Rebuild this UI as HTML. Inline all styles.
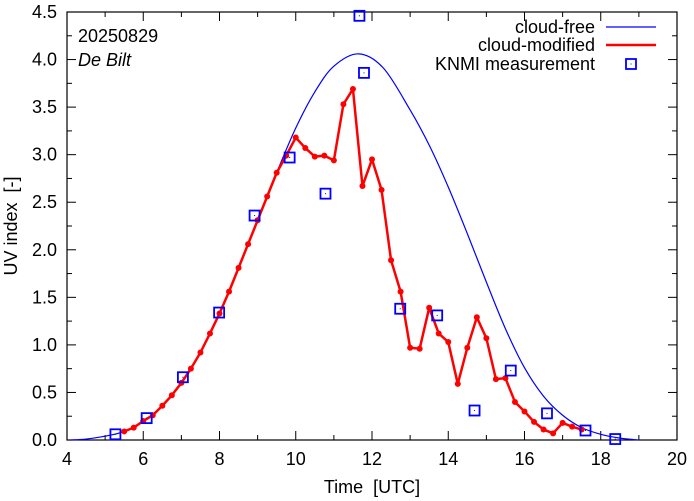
<!DOCTYPE html>
<html><head><meta charset="utf-8"><style>
html,body{margin:0;padding:0;background:#fff;}
svg{display:block;font-family:"Liberation Sans",Arial,sans-serif;}
</style></head><body>
<svg id="chart" width="694" height="501" viewBox="0 0 694 501">
<g id="axes"></g>
<g id="series"></g>
<text x="78" y="42" font-size="18" fill="#000">20250829</text>
<text x="78" y="66" font-size="18" font-style="italic" fill="#000">De Bilt</text>
<g>
<g>
<text x="595" y="33" font-size="18" text-anchor="end">cloud-free</text>
<line x1="606" y1="27" x2="656" y2="27" stroke="#0000ff" stroke-width="1.2"/></g>
<g>
<text x="595" y="51" font-size="18" text-anchor="end">cloud-modified</text>
<line x1="606" y1="45" x2="656" y2="45" stroke="#ff0000" stroke-width="2.5"/></g>
<g>
<text x="595" y="70" font-size="18" text-anchor="end">KNMI measurement</text>
<rect x="626" y="59" width="10" height="10" fill="none" stroke="#0000ff" stroke-width="1.8"/>
<rect x="630.5" y="63.5" width="1" height="1" fill="#0000ff"/></g>
</g>
<text x="372" y="493" font-size="18" text-anchor="middle">Time&#160; [UTC]</text>
<text transform="translate(17,226) rotate(-90)" font-size="18" text-anchor="middle">UV index&#160; [-]</text>
</svg>
<script>
const xTicks=[4,6,8,10,12,14,16,18,20];
const yTicks=[0,0.5,1,1.5,2,2.5,3,3.5,4,4.5];
const modTimes=[5.5,5.75,6,6.25,6.5,6.75,7,7.25,7.5,7.75,8,8.25,8.5,8.75,9,9.25,9.5,9.75,10,10.25,10.5,10.75,11,11.25,11.5,11.75,12,12.25,12.5,12.75,13,13.25,13.5,13.75,14,14.25,14.5,14.75,15,15.25,15.5,15.75,16,16.25,16.5,16.75,17,17.25,17.5];
const modValues=[0.09,0.13,0.20,0.26,0.36,0.47,0.60,0.75,0.92,1.12,1.33,1.56,1.81,2.06,2.31,2.56,2.81,2.99,3.18,3.07,2.98,2.99,2.94,3.53,3.69,2.67,2.95,2.63,1.89,1.56,0.97,0.96,1.39,1.12,1.03,0.59,0.97,1.29,1.07,0.64,0.65,0.40,0.30,0.19,0.11,0.07,0.18,0.14,0.11];
const clearTimes=[4.1,4.5,5,5.5,6,6.5,7,7.5,8,8.5,9,9.5,10,10.5,11,11.65,12.3,13,13.5,14,14.5,15,15.5,16,16.5,17,17.5,18,18.5,19.0];
const clearValues=[0,0.01,0.04,0.09,0.20,0.36,0.60,0.92,1.33,1.81,2.31,2.81,3.28,3.66,3.93,4.06,3.91,3.47,3.10,2.66,2.17,1.66,1.17,0.76,0.46,0.26,0.13,0.06,0.02,0];
const measTimes=[5.27,6.09,7.04,7.99,8.92,9.84,10.78,11.67,11.79,12.74,13.71,14.69,15.64,16.59,17.60,18.38];
const measValues=[0.06,0.23,0.66,1.34,2.36,2.97,2.59,4.46,3.86,1.38,1.31,0.31,0.73,0.28,0.10,0.01];

const L=67,R=677,T=12,B=440,X0=4,X1=20,Y0=0,Y1=4.5;
const sx=v=>L+(v-X0)/(X1-X0)*(R-L);
const sy=v=>B-(v-Y0)/(Y1-Y0)*(B-T);
const NS="http://www.w3.org/2000/svg";
function mk(tag,attrs,parent){const e=document.createElementNS(NS,tag);for(const k in attrs)e.setAttribute(k,attrs[k]);parent.appendChild(e);return e;}
const axes=document.getElementById('axes'),ser=document.getElementById('series');
const frame=mk('rect',{x:L,y:T,width:R-L,height:B-T,fill:'none',stroke:'#000','stroke-width':1.2},axes);


for(let v=X0;v<=X1;v+=1){const x=sx(v),len=(v%2===0)?9:5;
 mk('line',{x1:x,y1:B,x2:x,y2:B-len,stroke:'#000'},axes);mk('line',{x1:x,y1:T,x2:x,y2:T+len,stroke:'#000'},axes);}
xTicks.forEach(v=>{const t=mk('text',{x:sx(v),y:B+25,'font-size':18,'text-anchor':'middle'},axes);t.textContent=v;
 
 });
for(let v=0;v<=4.5001;v+=0.25){const y=sy(v),len=(Math.round(v*4)%2===0)?9:5;
 mk('line',{x1:L,y1:y,x2:L+len,y2:y,stroke:'#000'},axes);mk('line',{x1:R,y1:y,x2:R-len,y2:y,stroke:'#000'},axes);}
yTicks.forEach(v=>{const t=mk('text',{x:L-10,y:sy(v)+6,'font-size':18,'text-anchor':'end'},axes);t.textContent=v.toFixed(1);
 
 });
const P=clearTimes.map((t,i)=>[sx(t),sy(clearValues[i])]);
let d='M'+P[0][0]+','+P[0][1];
for(let i=0;i<P.length-1;i++){const p0=P[Math.max(0,i-1)],p1=P[i],p2=P[i+1],p3=P[Math.min(P.length-1,i+2)];
 d+=' C'+(p1[0]+(p2[0]-p0[0])/6)+','+(p1[1]+(p2[1]-p0[1])/6)+' '+(p2[0]-(p3[0]-p1[0])/6)+','+(p2[1]-(p3[1]-p1[1])/6)+' '+p2[0]+','+p2[1];}
const cf=mk('path',{d:d,fill:'none',stroke:'#0000ff','stroke-width':1.2},ser);


const cm=mk('polyline',{points:modTimes.map((t,i)=>sx(t)+','+sy(modValues[i])).join(' '),fill:'none',stroke:'#ff0000','stroke-width':2.5,'stroke-linejoin':'round'},ser);


modTimes.forEach((t,i)=>{const c=mk('circle',{cx:sx(t),cy:sy(modValues[i]),r:3,fill:'#ff0000'},ser);
 
 });
measTimes.forEach((t,i)=>{const x=sx(t),y=sy(measValues[i]);
 const r=mk('rect',{x:x-5,y:y-5,width:10,height:10,fill:'none',stroke:'#0000ff','stroke-width':1.8},ser);
 
 
 mk('rect',{x:x-0.5,y:y-0.5,width:1,height:1,fill:'#0000ff'},ser);});
</script>
</body></html>
